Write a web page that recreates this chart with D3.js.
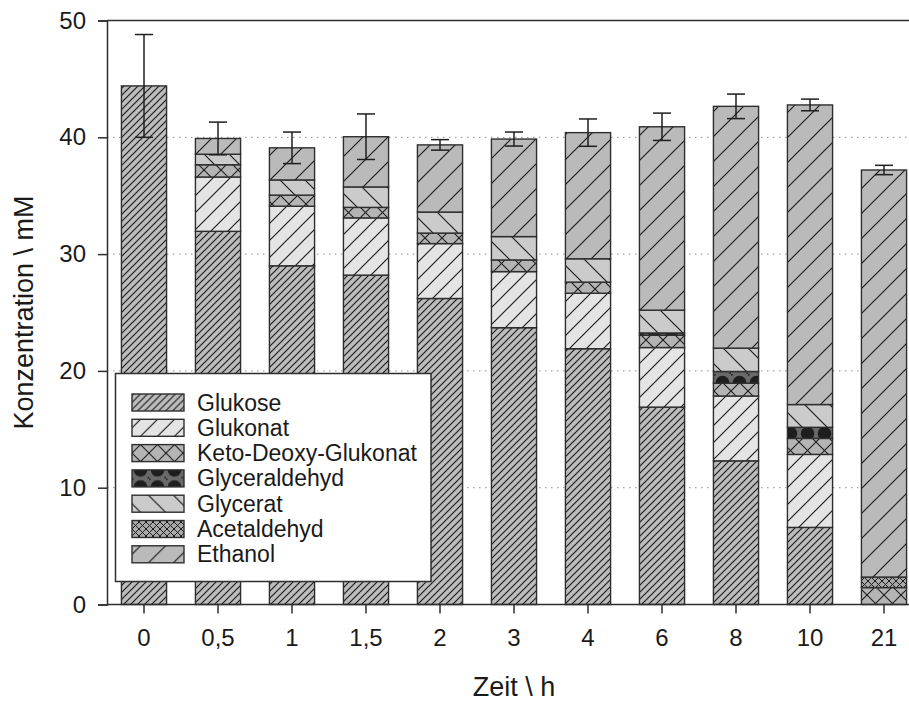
<!DOCTYPE html>
<html>
<head>
<meta charset="utf-8">
<script src="https://cdn.jsdelivr.net/npm/d3@7"></script>
<style>
  body { margin: 0; background: #fff; }
  svg { display: block; font-family: "Liberation Sans", Arial, sans-serif; }
</style>
</head>
<body>
<svg id="chart"></svg>
<script>
// time points (h)
var zeit = ['0', '0,5', '1', '1,5', '2', '3', '4', '6', '8', '10', '21']

var glukose       = [44.4, 31.95, 29.0, 28.2, 26.2, 23.7, 21.9, 16.9, 12.3, 6.6, 0]
var glukonat      = [0, 4.65, 5.1, 4.9, 4.7, 4.8, 4.75, 5.1, 5.55, 6.25, 0]
var kdg           = [0, 1.05, 0.95, 0.9, 0.9, 1.0, 0.95, 1.05, 1.1, 1.37, 1.45]
var glyceraldehyd = [0, 0, 0, 0, 0, 0, 0, 0.2, 1.0, 0.95, 0]
var glycerat      = [0, 0.9, 1.3, 1.75, 1.8, 2.0, 2.0, 1.95, 2.0, 1.95, 0]
var acetaldehyd   = [0, 0, 0, 0, 0, 0, 0, 0, 0, 0, 0.9]
var ethanol       = [0, 1.35, 2.75, 4.3, 5.75, 8.35, 10.8, 15.7, 20.7, 25.65, 34.85]
var fehler        = [4.4, 1.4, 1.35, 1.95, 0.45, 0.6, 1.17, 1.17, 1.05, 0.5, 0.4]

var serien = ['Glukose', 'Glukonat', 'Keto-Deoxy-Glukonat', 'Glyceraldehyd', 'Glycerat', 'Acetaldehyd', 'Ethanol']
var werte = [glukose, glukonat, kdg, glyceraldehyd, glycerat, acetaldehyd, ethanol]
var yTicks = [0, 10, 20, 30, 40, 50]

var W = 909, H = 702
var m = { left: 107, top: 20.5, bottom: 604.5, right: 921 }

var svg = d3.select('#chart').attr('width', W).attr('height', H)
var defs = svg.append('defs')

// hatch patterns, one per series
function diag(id, bg, p, dir) {
  var pat = defs.append('pattern').attr('id', id).attr('patternUnits', 'userSpaceOnUse')
    .attr('width', p).attr('height', p)
  pat.append('rect').attr('width', p).attr('height', p).attr('fill', bg)
  var d = dir > 0
    ? 'M-1,1 l2,-2 M0,' + p + ' l' + p + ',' + (-p) + ' M' + (p - 1) + ',' + (p + 1) + ' l2,-2'
    : 'M-1,' + (p - 1) + ' l2,2 M0,0 l' + p + ',' + p + ' M' + (p - 1) + ',-1 l2,2'
  pat.append('path').attr('d', d).attr('stroke', '#1e1e1e').attr('stroke-width', 1.2).attr('fill', 'none')
  return pat
}
function cross(id, bg, p, sw) {
  var pat = diag(id, bg, p, 1)
  pat.select('path').attr('stroke-width', sw)
  pat.append('path')
    .attr('d', 'M-1,' + (p - 1) + ' l2,2 M0,0 l' + p + ',' + p + ' M' + (p - 1) + ',-1 l2,2')
    .attr('stroke', '#1e1e1e').attr('stroke-width', sw).attr('fill', 'none')
}

diag('p0', '#bcbcbc', 7, 1)
diag('p1', '#e4e4e4', 17, 1)
cross('p2', '#b4b4b4', 17, 1.1)
var gp = defs.append('pattern').attr('id', 'p3').attr('patternUnits', 'userSpaceOnUse')
  .attr('width', 17).attr('height', 17)
gp.append('rect').attr('width', 17).attr('height', 17).attr('fill', '#6a6a6a')
gp.append('circle').attr('cx', 8.5).attr('cy', 8.5).attr('r', 6.8).attr('fill', '#1e1e1e')
gp.append('circle').attr('cx', 0).attr('cy', 0).attr('r', 2).attr('fill', '#2a2a2a')
gp.append('circle').attr('cx', 17).attr('cy', 17).attr('r', 2).attr('fill', '#2a2a2a')
diag('p4', '#cbcbcb', 25, -1)
cross('p5', '#a9a9a9', 7, 1)
diag('p6', '#bababa', 25, 1)

var x = d3.scaleBand().domain(zeit).range([m.left, m.right]).paddingInner(0.39).paddingOuter(0.195)
var y = d3.scaleLinear().domain([0, 50]).range([m.bottom, m.top])

svg.append('clipPath').attr('id', 'clip').append('rect')
  .attr('x', m.left).attr('y', 0).attr('width', W - m.left).attr('height', H)

var plot = svg.append('g').attr('clip-path', 'url(#clip)')

// dotted grid lines
plot.selectAll('.grid').data(yTicks.slice(0, 5)).enter().append('line')
  .attr('x1', m.left).attr('x2', m.right)
  .attr('y1', d => y(d)).attr('y2', d => y(d))
  .attr('stroke', '#8c8c8c').attr('stroke-width', 1).attr('stroke-dasharray', '1.5,4.5')

// stacked bars
var rows = zeit.map(function (z, i) {
  var r = { zeit: z }
  serien.forEach(function (s, k) { r[s] = werte[k][i] })
  return r
})
var stack = d3.stack().keys(serien)(rows)

stack.forEach(function (layer, k) {
  plot.append('g').selectAll('rect').data(layer.filter(d => d[1] - d[0] > 0)).enter().append('rect')
    .attr('x', d => x(d.data.zeit))
    .attr('width', x.bandwidth())
    .attr('y', d => y(d[1]))
    .attr('height', d => y(d[0]) - y(d[1]))
    .attr('fill', 'url(#p' + k + ')')
    .attr('stroke', '#2e2e2e').attr('stroke-width', 1.4)
})

// error bars on the stack totals
var summe = stack[stack.length - 1].map(d => d[1])
var cx = i => x(zeit[i]) + x.bandwidth() / 2
var eb = plot.append('g').attr('stroke', '#1e1e1e').attr('stroke-width', 1.5)
summe.forEach(function (s, i) {
  eb.append('line').attr('x1', cx(i)).attr('x2', cx(i))
    .attr('y1', y(s + fehler[i])).attr('y2', y(s - fehler[i]))
  ;[1, -1].forEach(function (k) {
    eb.append('line').attr('x1', cx(i) - 9).attr('x2', cx(i) + 9)
      .attr('y1', y(s + k * fehler[i])).attr('y2', y(s + k * fehler[i]))
  })
})

// frame top
svg.append('line').attr('x1', m.left).attr('x2', W).attr('y1', m.top).attr('y2', m.top)
  .attr('stroke', '#2e2e2e').attr('stroke-width', 1.5)

// axes
var yAxis = svg.append('g').attr('transform', 'translate(' + m.left + ',0)')
  .call(d3.axisLeft(y).tickValues(yTicks).tickSize(9).tickPadding(12))
var xAxis = svg.append('g').attr('transform', 'translate(0,' + m.bottom + ')')
  .call(d3.axisBottom(x).tickSize(9).tickPadding(15).tickSizeOuter(0))
;[yAxis, xAxis].forEach(function (a) {
  a.select('.domain').attr('stroke', '#2e2e2e').attr('stroke-width', 1.5)
  a.selectAll('.tick line').attr('stroke', '#2e2e2e').attr('stroke-width', 1.5)
  a.selectAll('text').attr('font-size', 24).attr('fill', '#1a1a1a').attr('font-family', '"Liberation Sans", Arial, sans-serif')
})
xAxis.select('.domain').attr('d', 'M' + m.left + ',0H' + W)

svg.append('text').attr('x', (m.left + m.right) / 2).attr('y', 696)
  .attr('text-anchor', 'middle').attr('font-size', 27).attr('fill', '#1a1a1a').text('Zeit \\ h')
svg.append('text').attr('transform', 'translate(33,' + (m.top + m.bottom) / 2 + ') rotate(-90)')
  .attr('text-anchor', 'middle').attr('font-size', 27).attr('fill', '#1a1a1a').text('Konzentration \\ mM')

// legend
var lg = svg.append('g')
lg.append('rect').attr('x', 115.5).attr('y', 373.5).attr('width', 315.5).attr('height', 208)
  .attr('fill', '#fff').attr('stroke', '#2e2e2e').attr('stroke-width', 1.5)
var li = lg.selectAll('g.item').data(serien).enter().append('g')
  .attr('transform', (d, i) => 'translate(132,' + (402.5 + i * 25.3) + ')')
li.append('rect').attr('x', 0).attr('y', -8.5).attr('width', 52).attr('height', 17)
  .attr('fill', (d, i) => 'url(#p' + i + ')').attr('stroke', '#2e2e2e').attr('stroke-width', 1.4)
li.append('text').attr('x', 65).attr('y', 8).attr('font-size', 23).attr('fill', '#1a1a1a').text(d => d)
</script>
</body>
</html>
